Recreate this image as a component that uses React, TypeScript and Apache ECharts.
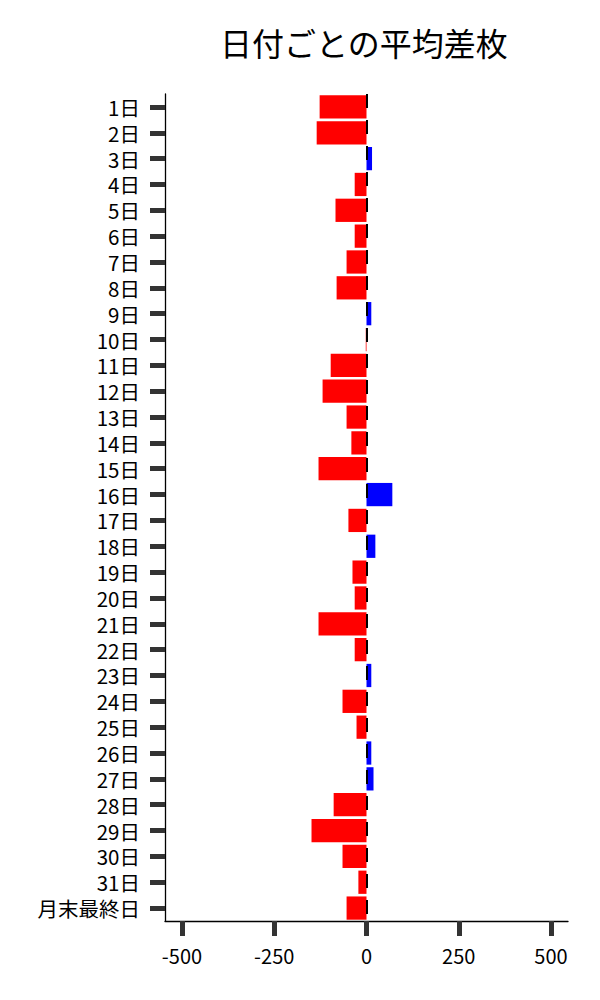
import React, { useEffect, useRef } from "react";
import * as echarts from "echarts";

const categories = [
  "1日", "2日", "3日", "4日", "5日", "6日", "7日", "8日", "9日", "10日",
  "11日", "12日", "13日", "14日", "15日", "16日", "17日", "18日", "19日", "20日",
  "21日", "22日", "23日", "24日", "25日", "26日", "27日", "28日", "29日", "30日",
  "31日", "月末最終日",
];
const values = [
  -127, -135, 15, -32, -84, -32, -54, -81, 13, -2,
  -97, -119, -54, -41, -130, 70, -49, 24, -38, -32,
  -130, -32, 13, -65, -27, 13, 19, -89, -149, -65,
  -22, -54,
];
const xTicks = [-500, -250, 0, 250, 500];
const title = "日付ごとの平均差枚";

export default function App() {
  const ref = useRef<HTMLDivElement>(null);
  useEffect(() => {
    const chart = echarts.init(ref.current!, null, { renderer: "svg" });
    const font = "'Noto Sans CJK JP', 'Noto Sans', sans-serif";
    chart.setOption({
      animation: false,
      title: {
        text: title,
        left: 215,
        top: 21,
        textStyle: { fontSize: 32, fontWeight: "normal", color: "#000", fontFamily: font },
      },
      grid: { left: 165, right: 32, top: 94, bottom: 79 },
      xAxis: {
        type: "value",
        min: -546,
        max: 546,
        splitLine: { show: false },
        axisLine: { show: true, onZero: false, lineStyle: { color: "#000", width: 1.3 } },
        axisTick: {
          show: true,
          customValues: xTicks,
          length: 15,
          lineStyle: { color: "#333", width: 5 },
        },
        axisLabel: {
          customValues: xTicks,
          margin: 24,
          fontSize: 20,
          color: "#000",
          fontFamily: font,
        },
      },
      yAxis: {
        type: "category",
        data: categories,
        inverse: true,
        axisLine: { show: true, onZero: false, lineStyle: { color: "#000", width: 1.3 } },
        axisTick: {
          show: true,
          alignWithLabel: true,
          length: 15,
          lineStyle: { color: "#333", width: 5 },
        },
        axisLabel: {
          margin: 25,
          fontSize: 20.5,
          lineHeight: 22,
          color: "#000",
          fontFamily: font,
          interval: 0,
        },
      },
      series: [
        {
          type: "bar",
          data: values.map((v) => ({
            value: v,
            itemStyle: { color: v >= 0 ? "#0000ff" : "#ff0000" },
          })),
          barCategoryGap: "10%",
          markLine: {
            symbol: "none",
            silent: true,
            label: { show: false },
            lineStyle: { color: "#000", width: 2, type: [14, 12], dashOffset: 0 },
            data: [{ xAxis: 0 }],
          },
        },
      ],
    });
    return () => chart.dispose();
  }, []);
  return <div ref={ref} style={{ width: 600, height: 1000, margin: -8 }} />;
}
